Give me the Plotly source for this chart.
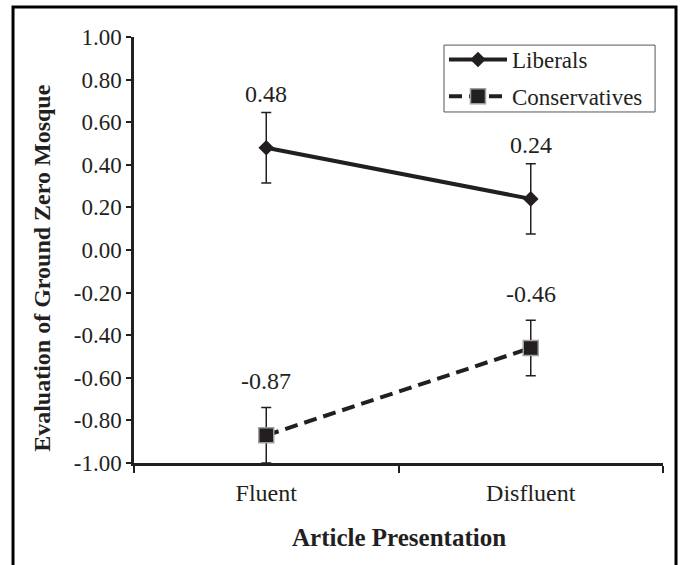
import plotly.graph_objects as go

categories = ["Fluent", "Disfluent"]
liberals = [0.48, 0.24]
liberals_err = [0.165, 0.165]
conservatives = [-0.87, -0.46]
conservatives_err = [0.13, 0.13]
y_ticks = [-1.0, -0.8, -0.6, -0.4, -0.2, 0.0, 0.2, 0.4, 0.6, 0.8, 1.0]
y_ticktext = [f"{v:.2f}" for v in y_ticks]

INK = "#231f20"
FONT = "Liberation Serif"

fig = go.Figure()
fig.add_trace(go.Scatter(
    x=categories, y=liberals, name="Liberals", mode="lines+markers",
    legendgroup="lib",
    line=dict(color=INK, width=4),
    marker=dict(symbol="diamond", size=12, color=INK),
    error_y=dict(type="data", array=liberals_err, color=INK, thickness=1.5, width=5),
))
fig.add_trace(go.Scatter(
    x=categories, y=conservatives, name="Conservatives", mode="lines+markers",
    legendgroup="con",
    line=dict(color=INK, width=4, dash="13px,7px"),
    marker=dict(symbol="square", size=15, color=INK, line=dict(color="#a0a0a0", width=1.5)),
    error_y=dict(type="data", array=conservatives_err, color=INK, thickness=1.5, width=5),
))

annotations = []
for series in (liberals, conservatives):
    for c, v in zip(categories, series):
        annotations.append(dict(x=c, y=v, xref="x", yref="y", text=f"{v:.2f}",
                                showarrow=False, yshift=54,
                                font=dict(family=FONT, size=24, color=INK)))
annotations.append(dict(x=-0.174, y=0.458, xref="paper", yref="paper",
                        xanchor="center", yanchor="middle",
                        text="<b>Evaluation of Ground Zero Mosque</b>", textangle=-90,
                        showarrow=False, font=dict(family=FONT, size=24, color=INK)))
annotations.append(dict(x=0.5, y=-0.176, xref="paper", yref="paper",
                        xanchor="center", yanchor="middle",
                        text="<b>Article Presentation</b>",
                        showarrow=False, font=dict(family=FONT, size=25, color=INK)))

fig.update_layout(
    width=683, height=565,
    margin=dict(l=134, r=20, t=37, b=102),
    paper_bgcolor="white", plot_bgcolor="white",
    font=dict(family=FONT, color=INK),
    annotations=annotations,
    showlegend=True,
    legend=dict(x=0.586, y=0.9977, xanchor="left", yanchor="top",
                borderwidth=0, bgcolor="rgba(0,0,0,0)", tracegroupgap=4,
                font=dict(family=FONT, size=23, color=INK), itemwidth=58),
    shapes=[
        dict(type="rect", xref="paper", yref="paper",
             x0=-0.2287, x1=1.0246, y0=-0.3, y1=1.0704,
             line=dict(color="black", width=3)),
        dict(type="rect", xref="paper", yref="paper",
             x0=0.586, x1=0.985, y0=0.824, y1=0.981,
             line=dict(color="#555555", width=1), fillcolor="white", layer="below"),
    ],
)
fig.update_xaxes(type="category", range=[-0.5, 1.5], tickson="boundaries",
                 ticks="outside", ticklen=7, tickwidth=2, tickcolor=INK,
                 showline=True, linewidth=2.5, linecolor=INK, showgrid=False,
                 tickfont=dict(family=FONT, size=24, color=INK), ticklabelstandoff=6)
fig.update_yaxes(range=[-1, 1], tickvals=y_ticks, ticktext=y_ticktext,
                 ticks="outside", ticklen=5, tickwidth=2, tickcolor=INK,
                 showline=True, linewidth=2.5, linecolor=INK, showgrid=False,
                 zeroline=False, tickfont=dict(family=FONT, size=23, color=INK))

fig.write_html("out.html", config={"displayModeBar": False},
               post_script="document.body.style.margin='0';")
